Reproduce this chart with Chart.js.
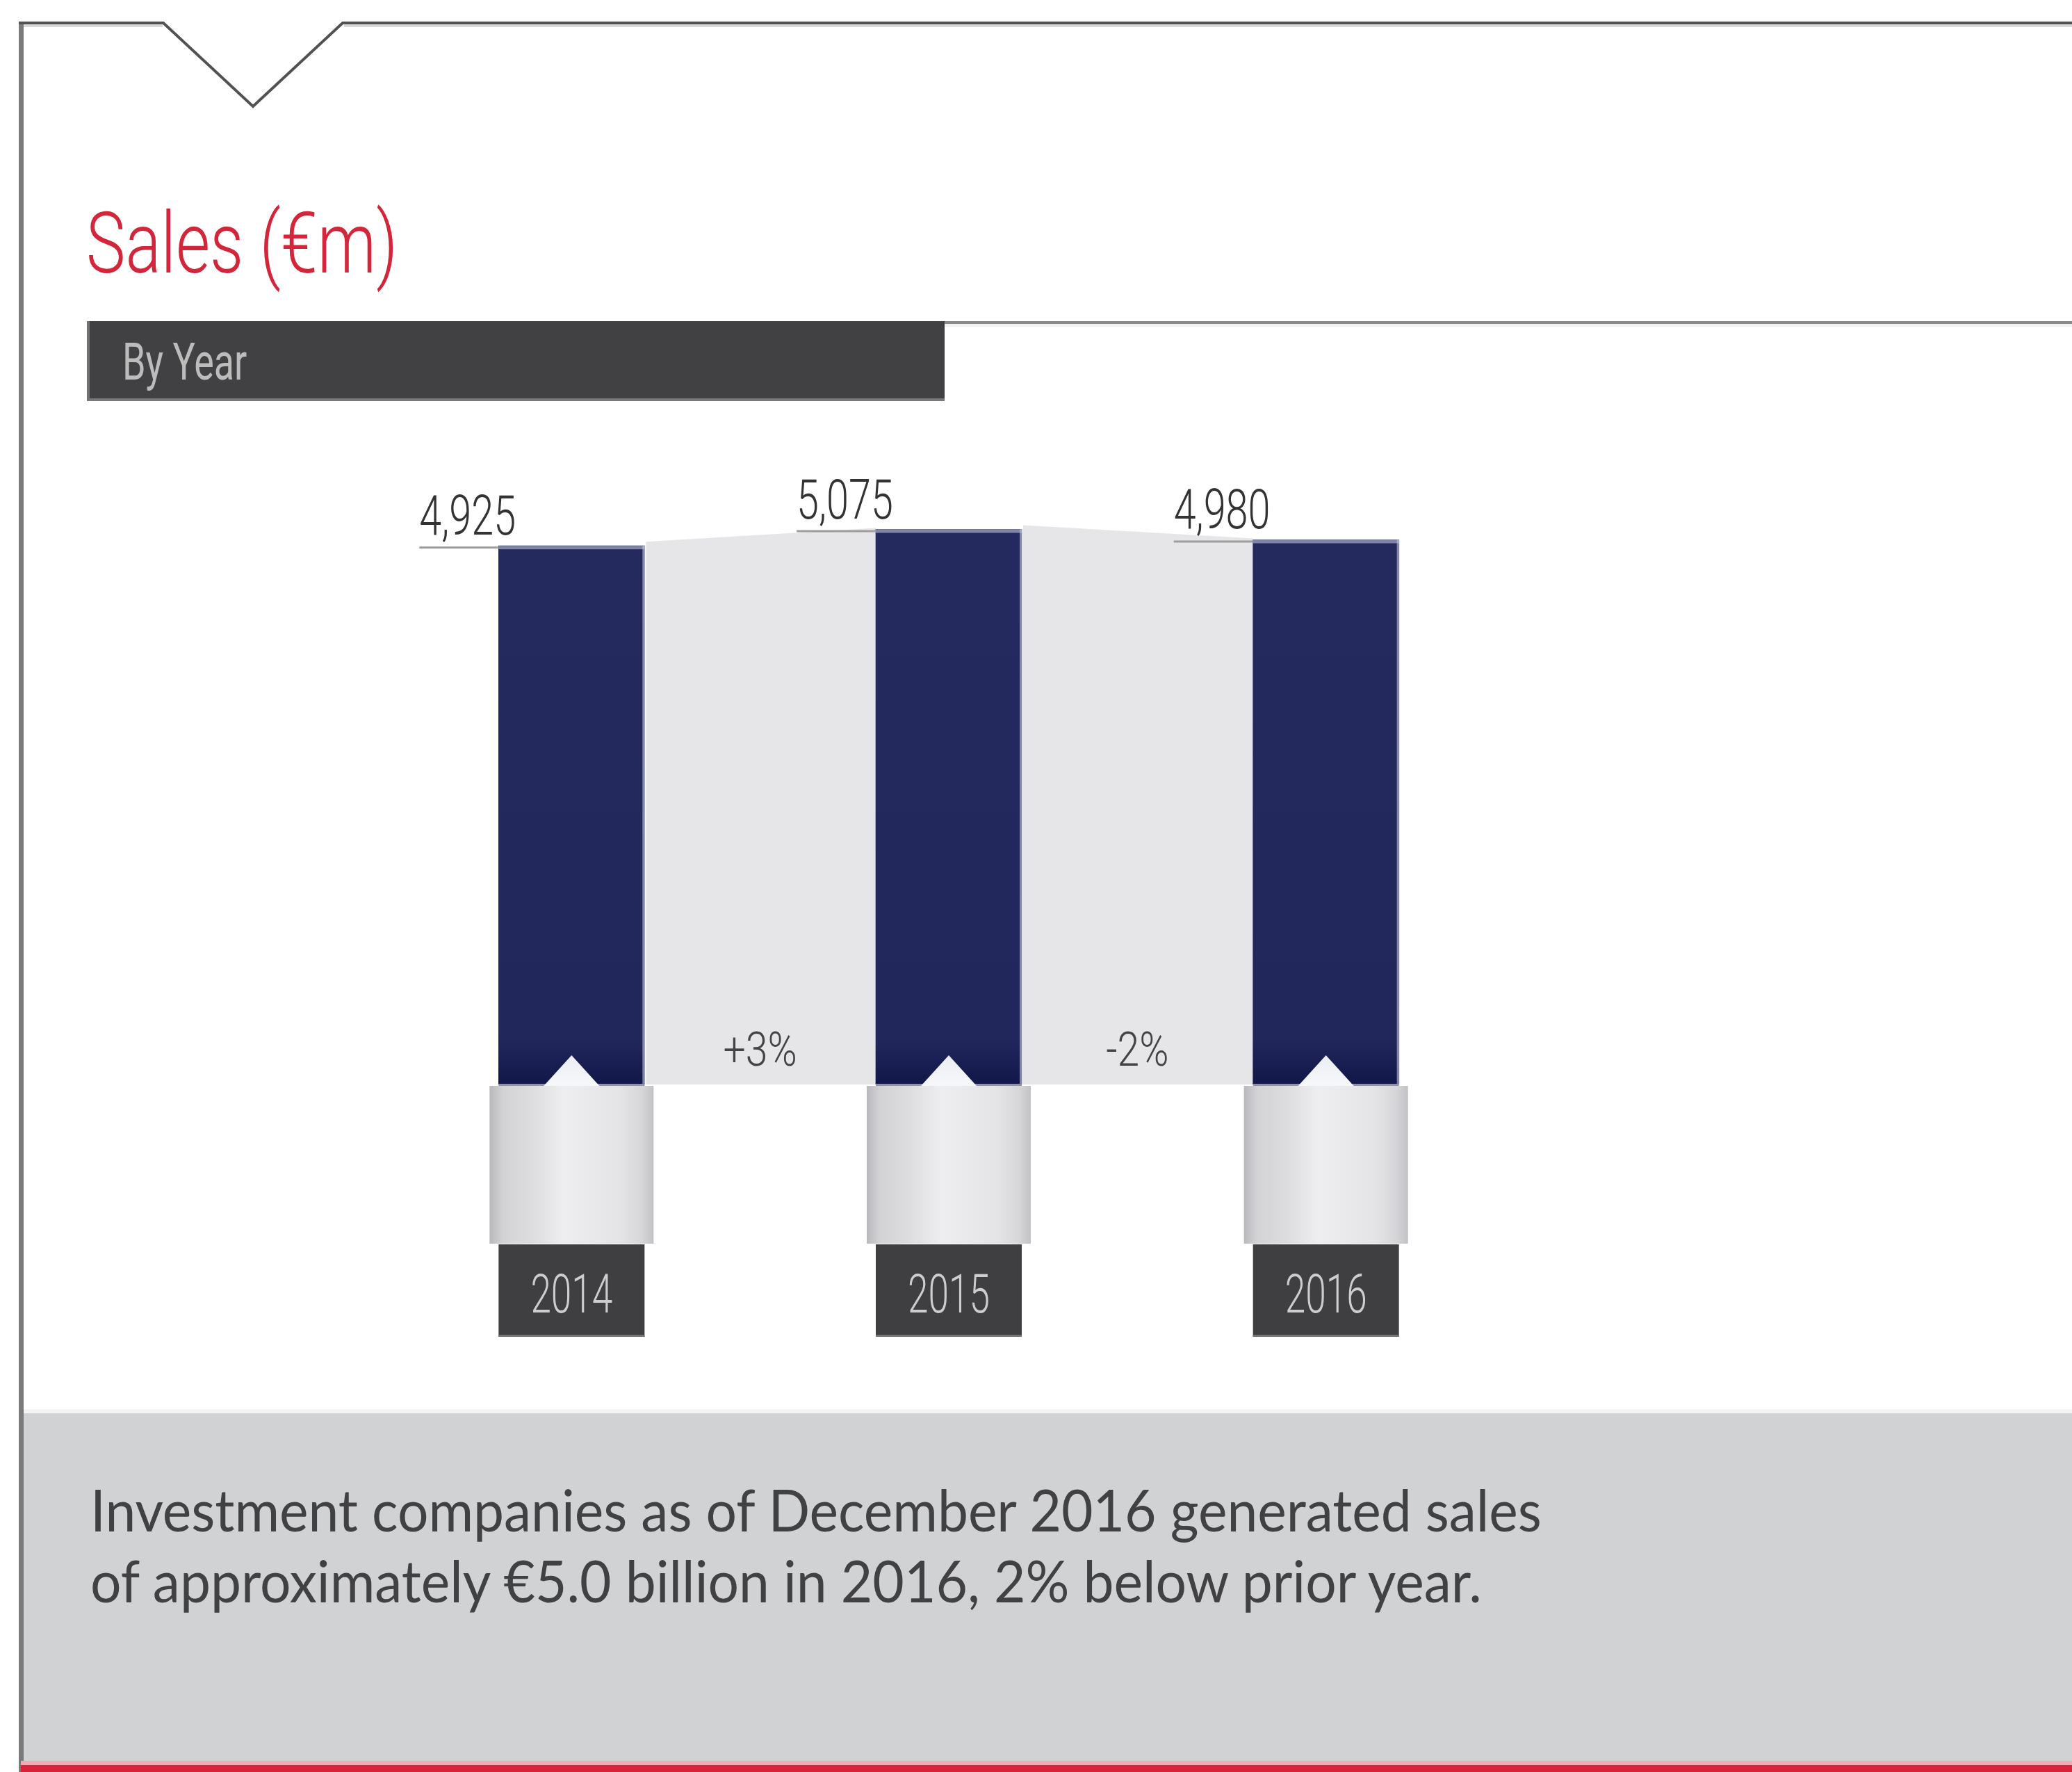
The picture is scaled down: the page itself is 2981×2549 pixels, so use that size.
<!DOCTYPE html>
<html>
<head>
<meta charset="utf-8">
<title>Sales (€m)</title>
<script src="https://cdn.jsdelivr.net/npm/chart.js@4.4.1/dist/chart.umd.min.js"></script>
<style>
  html, body { margin: 0; padding: 0; background: #fff; }
  body { width: 2981px; height: 2549px; position: relative; overflow: hidden; }
  #salesChart { position: absolute; left: 0; top: 0; }
  .txt { position: absolute; white-space: nowrap; transform-origin: 0 0; line-height: 1; }
  #title { font-family: Roboto, sans-serif; font-weight: 300; font-size: 122px; color: #d3263b; }
  #byYearBar { position: absolute; left: 125px; top: 462px; width: 1234px; height: 115px;
    background: #414143; border-left: 4px solid #727274; border-bottom: 4px solid #79797b; box-sizing: border-box; }
  #byYear { font-family: Roboto, sans-serif; font-size: 75px; color: #bcbcbc; }
  .para { font-family: Lato, sans-serif; font-weight: 400; font-size: 84px; color: #414143; }
</style>
</head>
<body>
<canvas id="salesChart" width="2981" height="2549"></canvas>
<div id="byYearBar"></div>
<div class="txt" id="title">Sales (€m)</div>
<div class="txt" id="byYear">By Year</div>
<div class="txt para" id="line1">Investment companies as of December 2016 generated sales</div>
<div class="txt para" id="line2">of approximately €5.0 billion in 2016, 2% below prior year.</div>
<script>
var years = ['2014', '2015', '2016'];
var sales = [4925, 5075, 4980];
var changeLabels = ['+3%', '-2%'];

var navy = '#23295b';
var LABEL_FONT = 'Roboto, sans-serif';

// puts a text block so its baseline sits at y and squeezes it to the given width
function place(id, left, baseline, width, scale) {
	var el = document.getElementById(id);
	var probe = document.createElement('span');
	probe.style.cssText = 'display:inline-block;width:0;height:0;vertical-align:baseline';
	el.appendChild(probe);
	var base = probe.offsetTop;
	var w = el.offsetWidth;
	el.removeChild(probe);
	el.style.left = left + 'px';
	el.style.top = (baseline - base) + 'px';
	var s = scale || (width / w);
	el.style.transform = 'scaleX(' + s + ')';
	return s;
}

function narrowText(ctx, text, x, y, size, color, sx, align) {
	ctx.save();
	ctx.font = '300 ' + size + 'px ' + LABEL_FONT;
	ctx.fillStyle = color;
	ctx.textAlign = 'left';
	ctx.textBaseline = 'alphabetic';
	var w = ctx.measureText(text).width * sx;
	var x0 = align === 'center' ? x - w / 2 : x;
	ctx.translate(x0, y);
	ctx.scale(sx, 1);
	ctx.fillText(text, 0, 0);
	ctx.restore();
}

var decor = {
	id: 'decor',
	beforeDraw: function(chart) {
		var ctx = chart.ctx;
		ctx.save();
		// frame with the notch on top
		ctx.fillStyle = '#7a7a7a';
		ctx.fillRect(27, 33, 7, 2516);
		ctx.fillStyle = '#d8d8d8';
		ctx.fillRect(34, 35, 200, 4);
		ctx.fillRect(495, 35, 2486, 4);
		ctx.strokeStyle = '#525252';
		ctx.lineWidth = 4;
		ctx.lineJoin = 'miter';
		ctx.beginPath();
		ctx.moveTo(27, 33);
		ctx.lineTo(235, 33);
		ctx.lineTo(364, 153);
		ctx.lineTo(493, 33);
		ctx.lineTo(2981, 33);
		ctx.stroke();
		// rule right of the "By Year" tab
		ctx.fillStyle = '#898989';
		ctx.fillRect(1359, 462, 1622, 4);
		ctx.fillStyle = '#f3f3f3';
		ctx.fillRect(1359, 466, 1622, 4);
		// grey note panel and red footer
		ctx.fillStyle = '#f4f4f5';
		ctx.fillRect(34, 2027, 2947, 6);
		ctx.fillStyle = '#d1d2d4';
		ctx.fillRect(34, 2033, 2947, 500);
		ctx.fillStyle = '#f1a9b3';
		ctx.fillRect(30, 2533, 2951, 6);
		ctx.fillStyle = '#d8223a';
		ctx.fillRect(30, 2539, 2951, 10);
		ctx.restore();
	},
	beforeDatasetsDraw: function(chart) {
		var ctx = chart.ctx;
		var bars = chart.getDatasetMeta(0).data;
		var base = chart.scales.y.getPixelForValue(0);
		ctx.save();
		// light bands joining neighbouring bar tops
		ctx.fillStyle = '#e6e6e8';
		for (var i = 0; i < bars.length - 1; i++) {
			var a = bars[i], b = bars[i + 1];
			var x0 = a.x + a.width / 2 + 2, x1 = b.x - b.width / 2;
			ctx.beginPath();
			ctx.moveTo(x0, a.y - 6);
			ctx.lineTo(x1, b.y - 2);
			ctx.lineTo(x1, base);
			ctx.lineTo(x0, base);
			ctx.closePath();
			ctx.fill();
		}
		// rounded grey sleeves under each bar
		bars.forEach(function(bar) {
			var l = bar.x - 118, r = bar.x + 118;
			var g = ctx.createLinearGradient(l, 0, r, 0);
			g.addColorStop(0, '#b9b9bd');
			g.addColorStop(0.08, '#d3d3d6');
			g.addColorStop(0.25, '#dcdcdf');
			g.addColorStop(0.45, '#eeeef0');
			g.addColorStop(0.8, '#e4e4e7');
			g.addColorStop(0.93, '#d6d6d9');
			g.addColorStop(1, '#c2c2c6');
			ctx.fillStyle = g;
			ctx.fillRect(l, base + 2, r - l, 227);
		});
		ctx.restore();
	},
	afterDatasetsDraw: function(chart) {
		var ctx = chart.ctx;
		var bars = chart.getDatasetMeta(0).data;
		var base = chart.scales.y.getPixelForValue(0);
		ctx.save();
		bars.forEach(function(bar, i) {
			var left = bar.x - bar.width / 2, right = bar.x + bar.width / 2;
			// soft top edge and right edge of the bar
			ctx.fillStyle = 'rgba(160,163,192,0.75)';
			ctx.fillRect(left, bar.y, bar.width, 5);
			ctx.fillStyle = 'rgba(200,202,222,0.6)';
			ctx.fillRect(right - 3, bar.y, 4, base - bar.y);
			ctx.fillStyle = '#8f91a8';
			ctx.fillRect(left, base - 1, bar.width, 3);
			// little arrow cut into the bar foot
			var tg = ctx.createLinearGradient(0, base - 42, 0, base + 2);
			tg.addColorStop(0, '#eceef4');
			tg.addColorStop(1, '#f6f7fa');
			ctx.fillStyle = tg;
			ctx.beginPath();
			ctx.moveTo(bar.x, base - 42);
			ctx.lineTo(bar.x + 40, base + 2);
			ctx.lineTo(bar.x - 40, base + 2);
			ctx.closePath();
			ctx.fill();
			// value label with its leader line
			var labelLeft = left - 114;
			ctx.fillStyle = '#9d9d9d';
			ctx.fillRect(labelLeft, bar.y + 1, left - labelLeft, 3);
			narrowText(ctx, sales[i].toLocaleString('en-US'), labelLeft, bar.y - 16, 80, '#333335', 0.72, 'left');
			// year box
			ctx.fillStyle = '#3f3f41';
			ctx.fillRect(left, base + 230, bar.width, 133);
			ctx.fillStyle = '#747476';
			ctx.fillRect(left, base + 360, bar.width, 3);
			narrowText(ctx, chart.data.labels[i], bar.x, base + 328, 77, '#cdcdcd', 0.69, 'center');
		});
		// year-on-year change in each band
		for (var k = 0; k < bars.length - 1; k++) {
			var cx = (bars[k].x + bars[k].width / 2 + bars[k + 1].x - bars[k + 1].width / 2) / 2;
			narrowText(ctx, changeLabels[k], cx, base - 27, 68, '#444446', 0.84, 'center');
		}
		ctx.restore();
	}
};

window.onload = function() {
	var ctx = document.getElementById('salesChart').getContext('2d');
	window.salesChart = new Chart(ctx, {
		type: 'bar',
		data: {
			labels: years,
			datasets: [{
				label: 'Sales (€m)',
				data: sales,
				barThickness: 210,
				borderWidth: 0,
				backgroundColor: function(c) {
					var area = c.chart.chartArea;
					if (!area) return navy;
					var g = c.chart.ctx.createLinearGradient(0, area.top, 0, area.bottom);
					g.addColorStop(0, '#252b5e');
					g.addColorStop(0.93, '#21275a');
					g.addColorStop(1, '#12174a');
					return g;
				}
			}]
		},
		options: {
			responsive: false,
			devicePixelRatio: 1,
			animation: false,
			events: [],
			layout: { padding: { left: 551, right: 802, top: 616, bottom: 989 } },
			plugins: { legend: { display: false }, tooltip: { enabled: false } },
			scales: {
				x: { display: false },
				y: { display: false, min: 0, max: 6000 }
			}
		},
		plugins: [decor]
	});

	place('title', 124, 392, 448);
	place('byYear', 176, 546, 179);
	var s = place('line1', 130, 2203, 2088);
	place('line2', 130, 2305, 0, s);
};
</script>
</body>
</html>
